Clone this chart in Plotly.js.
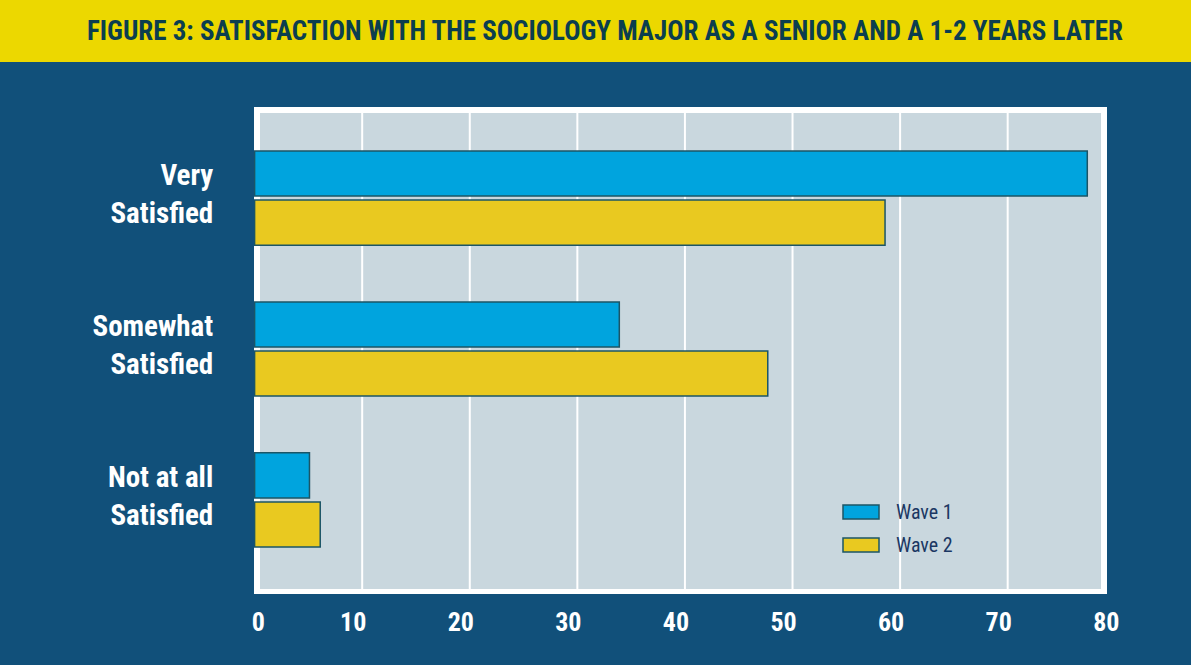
<!DOCTYPE html>
<html>
<head>
<meta charset="utf-8">
<script src="https://cdn.plot.ly/plotly-3.0.1.min.js"></script>
<style>
html,body{margin:0;padding:0;background:#11507a;}
#chart{width:1191px;height:665px;}
</style>
</head>
<body>
<div id="chart"></div>
<script>
// ---- data ----
const categories = ["Very<br>Satisfied", "Somewhat<br>Satisfied", "Not at all<br>Satisfied"];
const seriesNames = ["Wave 1", "Wave 2"];
const wave1 = [77.4, 33.9, 5.1];
const wave2 = [58.6, 47.7, 6.1];
const xTickValues = [0, 10, 20, 30, 40, 50, 60, 70, 80];
const xTickLabels = ["\u2007\u20070", "10", "20", "30", "40", "50", "60", "70", "80"];
const gridValues = [10, 20, 30, 40, 50, 60, 70];
const titleText = "FIGURE 3: SATISFACTION WITH THE SOCIOLOGY MAJOR AS A SENIOR AND A 1-2 YEARS LATER";

// ---- style ----
const W = 1191, H = 665;
const L = 254, R = 1120, T = 107, B = 594;
const fx = px => (px - L) / (R - L);
const fy = py => (B - py) / (B - T);
const FONT = "'Roboto Condensed', 'DejaVu Sans Condensed', sans-serif";
const colors = ["#00a4de", "#e9c920"];
const outline = "#1b5566";

const traces = [
  {type: "bar", orientation: "h", name: seriesNames[0], y: categories, x: wave1,
   marker: {color: colors[0], line: {color: outline, width: 1.5}}, hoverinfo: "x+name", showlegend: false},
  {type: "bar", orientation: "h", name: seriesNames[1], y: categories, x: wave2,
   marker: {color: colors[1], line: {color: outline, width: 1.5}}, hoverinfo: "x+name", showlegend: false}
];

const frameShapes = [
  {type: "rect", xref: "paper", yref: "paper", layer: "below",
   x0: fx(0), x1: fx(W), y0: fy(62), y1: fy(0), fillcolor: "#ecd800", line: {width: 0}},
  {type: "rect", xref: "paper", yref: "paper", layer: "below",
   x0: fx(254), x1: fx(1107), y0: fy(594), y1: fy(107), fillcolor: "#ffffff", line: {width: 0}},
  {type: "rect", xref: "paper", yref: "paper", layer: "below",
   x0: fx(260), x1: fx(1101), y0: fy(589), y1: fy(113), fillcolor: "#c9d7de", line: {width: 0}}
];
const gridShapes = gridValues.map(v => ({
  type: "line", xref: "x", yref: "paper", layer: "below",
  x0: v, x1: v, y0: fy(589), y1: fy(113), line: {color: "#ffffff", width: 2}
}));
const legendShapes = seriesNames.map((n, i) => ({
  type: "rect", xref: "paper", yref: "paper", layer: "above",
  x0: fx(843), x1: fx(879), y0: fy(519 + i * 33), y1: fy(505 + i * 33),
  fillcolor: colors[i], line: {color: outline, width: 1.5}
}));
const legendTexts = seriesNames.map((n, i) => ({
  xref: "paper", yref: "paper", x: fx(894), y: fy(512 + i * 33),
  xanchor: "left", yanchor: "middle", showarrow: false, text: n,
  font: {family: FONT, size: 20, color: "#1b3763"}
}));

const layout = {
  width: W, height: H,
  paper_bgcolor: "#11507a",
  plot_bgcolor: "rgba(0,0,0,0)",
  margin: {l: L, r: W - R, t: T, b: H - B, pad: 0},
  title: {text: titleText, xref: "container", yref: "container",
          x: 605 / W, y: 1 - 31 / H, xanchor: "center", yanchor: "middle",
          font: {family: FONT, size: 27, color: "#0b3e4f", weight: "bold"}},
  barmode: "group", bargap: 0.35, bargroupgap: 0.08,
  showlegend: false,
  xaxis: {range: [-0.056, 80.44], tickmode: "array", tickvals: xTickValues, ticktext: xTickLabels,
          showgrid: false, zeroline: false, showline: false,
          ticks: "outside", ticklen: 5, tickcolor: "rgba(0,0,0,0)", ticklabelshift: -9,
          tickfont: {family: FONT, size: 26, color: "#ffffff", weight: "bold"}, fixedrange: true},
  yaxis: {type: "category", categoryarray: categories, categoryorder: "array",
          range: [2.623, -0.603], showgrid: false, zeroline: false, showline: false,
          ticks: "outside", ticklen: 34, tickcolor: "rgba(0,0,0,0)", ticklabelshift: 4,
          tickfont: {family: FONT, size: 29, color: "#ffffff", weight: "bold"}, fixedrange: true},
  shapes: frameShapes.concat(gridShapes, legendShapes),
  annotations: legendTexts
};

Plotly.newPlot("chart", traces, layout, {displayModeBar: false, staticPlot: true});
</script>
</body>
</html>
